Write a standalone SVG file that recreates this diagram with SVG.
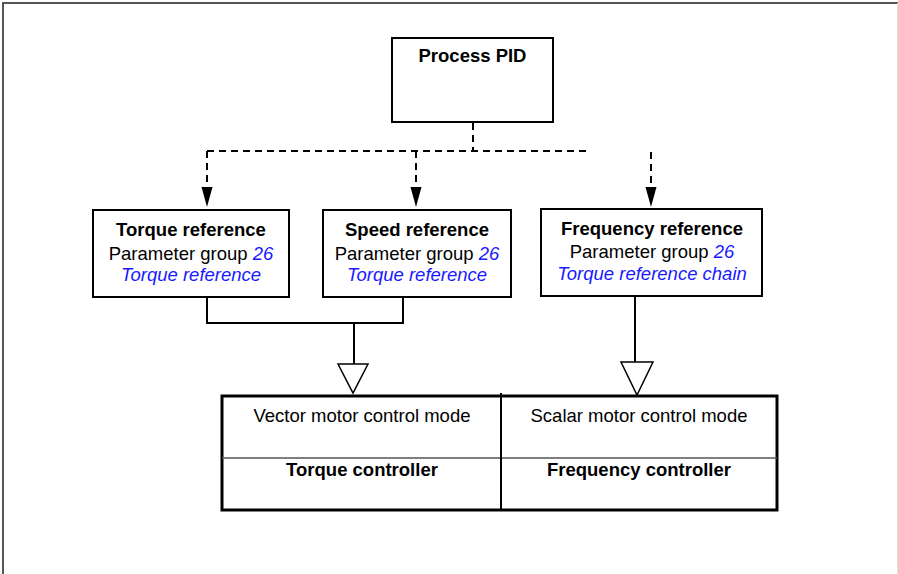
<svg xmlns="http://www.w3.org/2000/svg" width="898" height="574" viewBox="0 0 898 574">
<defs>
<style>
text{font-family:"Liberation Sans",Arial,sans-serif;font-size:18.5px;fill:#000;text-anchor:middle}
.b{font-weight:bold}
.i{font-style:italic;fill:#1a1aff}
.box{fill:#fff;stroke:#000;stroke-width:2}
.dash{fill:none;stroke:#000;stroke-width:2;stroke-dasharray:7,5}
.ln{fill:none;stroke:#000;stroke-width:2}
.tri{fill:#fff;stroke:#000;stroke-width:1.5}
</style>
</defs>
<rect width="898" height="574" fill="#fff"/>
<path d="M3,574 V3 H898" fill="none" stroke="#555" stroke-width="2"/>
<line x1="897.5" y1="3" x2="897.5" y2="574" stroke="#ddd" stroke-width="1"/>

<g id="connectors">
<path class="dash" d="M473,123 V151"/>
<path class="dash" d="M207,151 H589"/>
<path class="dash" d="M207,151 V187"/>
<path class="dash" d="M416,151 V187"/>
<path class="dash" d="M651,152 V187"/>
<path d="M201.5,187 L212.5,187 L207,207 Z" fill="#000"/>
<path d="M410.5,187 L421.5,187 L416,207 Z" fill="#000"/>
<path d="M645.5,187 L656.5,187 L651,207 Z" fill="#000"/>
<path class="ln" d="M207,297 V323 H403 V297"/>
<path class="ln" d="M354,323 V364"/>
<path class="tri" d="M338,364 L368,364 L353,393 Z"/>
<path class="ln" d="M635,296 V362"/>
<path class="tri" d="M621,362 L653,362 L637,395 Z"/>
</g>

<g id="process-pid">
<rect class="box" x="392" y="38" width="161" height="84"/>
<text class="b" x="472.5" y="62">Process PID</text>
</g>

<g id="torque-reference">
<rect class="box" x="93" y="210" width="196" height="87"/>
<text class="b" x="191" y="236">Torque reference</text>
<text x="191" y="260">Parameter group <tspan class="i">26</tspan></text>
<text class="i" x="191" y="281">Torque reference</text>
</g>

<g id="speed-reference">
<rect class="box" x="323" y="210" width="188" height="87"/>
<text class="b" x="417" y="236">Speed reference</text>
<text x="417" y="260">Parameter group <tspan class="i">26</tspan></text>
<text class="i" x="417" y="281">Torque reference</text>
</g>

<g id="frequency-reference">
<rect class="box" x="541" y="209" width="221" height="87" stroke-width="2.5"/>
<text class="b" x="652" y="235">Frequency reference</text>
<text x="652" y="258">Parameter group <tspan class="i">26</tspan></text>
<text class="i" x="652" y="280">Torque reference chain</text>
</g>

<g id="controllers">
<rect x="222" y="396" width="555" height="114" fill="none" stroke="#000" stroke-width="3"/>
<line x1="222" y1="458" x2="777" y2="458" stroke="#555" stroke-width="1.5"/>
<line x1="501" y1="393" x2="501" y2="510" stroke="#000" stroke-width="2"/>
<text x="362" y="422">Vector motor control mode</text>
<text x="639" y="422">Scalar motor control mode</text>
<text class="b" x="362" y="476">Torque controller</text>
<text class="b" x="639" y="476">Frequency controller</text>
</g>
</svg>
